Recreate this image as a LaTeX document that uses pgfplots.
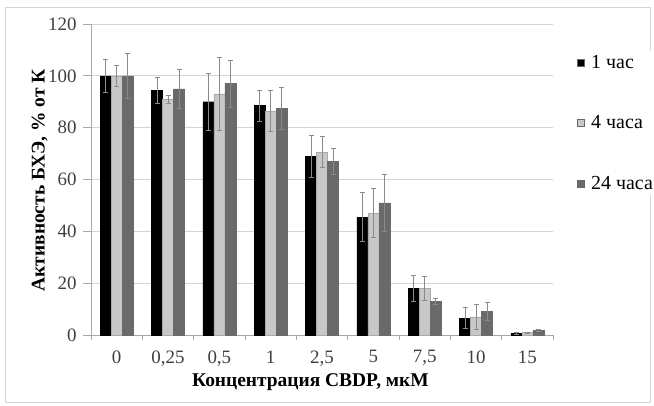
\documentclass[border=0pt]{standalone}
\usepackage{pgfplots}
\pgfplotsset{compat=1.18}
\usepackage{pgfplotstable}
\usepackage{fontspec}
\setmainfont{Liberation Serif}
\definecolor{lgbar}{HTML}{C8C8C8}
\definecolor{dgbar}{HTML}{6A6A6A}
\definecolor{errc}{HTML}{8A8A8A}
\definecolor{gridc}{HTML}{D4D4D4}
\definecolor{axc}{HTML}{A8A8A8}
\pgfplotstableread{
x y1 e1 y2 e2 y3 e3
0 100 6.5 100 4 100 8.5
1 94.5 5 91 1.5 95 7.5
2 90 11 93 14 97 9
3 88.5 6 86.5 8 87.5 8
4 69 8 70.5 6 67 5
5 45.5 9.5 47 9.5 51 11
6 18 5 18 4.5 13 1
7 6.5 4 7 5 9 3.5
8 0.6 0.3 0.9 0.3 1.7 0.4
}\datatable
\begin{document}
\begin{tikzpicture}[x=1bp,y=1bp]
\useasboundingbox (0,0) rectangle (654,405);
\draw[gridc, line width=0.8bp] (5,3) rectangle (650,398);
\begin{axis}[
  at={(91bp,70bp)}, anchor=south west,
  scale only axis, width=462bp, height=311bp,
  ybar=0pt, bar width=11bp,
  xmin=-0.5, xmax=8.5, ymin=0, ymax=120,
  ytick={0,20,...,120},
  xtick={0,...,8},
  xticklabels={0,{0,25},{0,5},1,{2,5},5,{7,5},10,15},
  minor xtick={-0.5,0.5,...,8.5},
  major x tick style={draw=none},
  minor x tick style={axc, line width=0.8bp},
  minor tick length=5bp,
  major tick length=8bp,
  y tick style={axc, line width=0.8bp},
  tick align=outside,
  tick pos=left,
  axis x line*=bottom, axis y line*=left,
  axis line style={axc, line width=0.8bp},
  ymajorgrids, grid style={gridc, line width=0.8bp},
  /pgf/number format/assume math mode=true,
  tick label style={font=\fontsize{19}{22}\selectfont, text=black!75},
  yticklabel style={xshift=-3bp},
  xticklabel style={yshift=-4bp},
  xlabel={\textbf{Концентрация CBDP, мкМ}},
  ylabel={\textbf{Активность БХЭ, \% от К}},
  label style={font=\fontsize{19.5}{22}\selectfont},
  xlabel style={at={(axis description cs:0.475,-0.151)}, anchor=center},
  ylabel style={at={(axis description cs:-0.111,0.497)}, anchor=center},
  legend style={draw=none, at={(1.045,0.682)}, anchor=west,
    font=\fontsize{20}{23}\selectfont, row sep=42bp},
  legend cell align=left,
  legend image code/.code={\draw[#1, draw=black!60, line width=0.5bp] (0bp,-3.5bp) rectangle (7bp,3.5bp); \path[draw=none, fill=none] (0bp,0bp) -- (12bp,0bp);},
  error bars/error bar style={errc, line width=0.7bp},
  error bars/error mark options={rotate=90, errc, mark size=2.5bp, line width=0.7bp},
]
\addplot[fill=black, draw=black, error bars/.cd, y dir=both, y explicit] table[x=x, y=y1, y error=e1] {\datatable};
\addplot[fill=lgbar, draw=lgbar!85!black, error bars/.cd, y dir=both, y explicit] table[x=x, y=y2, y error=e2] {\datatable};
\addplot[fill=dgbar, draw=dgbar, error bars/.cd, y dir=both, y explicit] table[x=x, y=y3, y error=e3] {\datatable};
\legend{1 час, 4 часа, 24 часа}
\end{axis}
\end{tikzpicture}
\end{document}
